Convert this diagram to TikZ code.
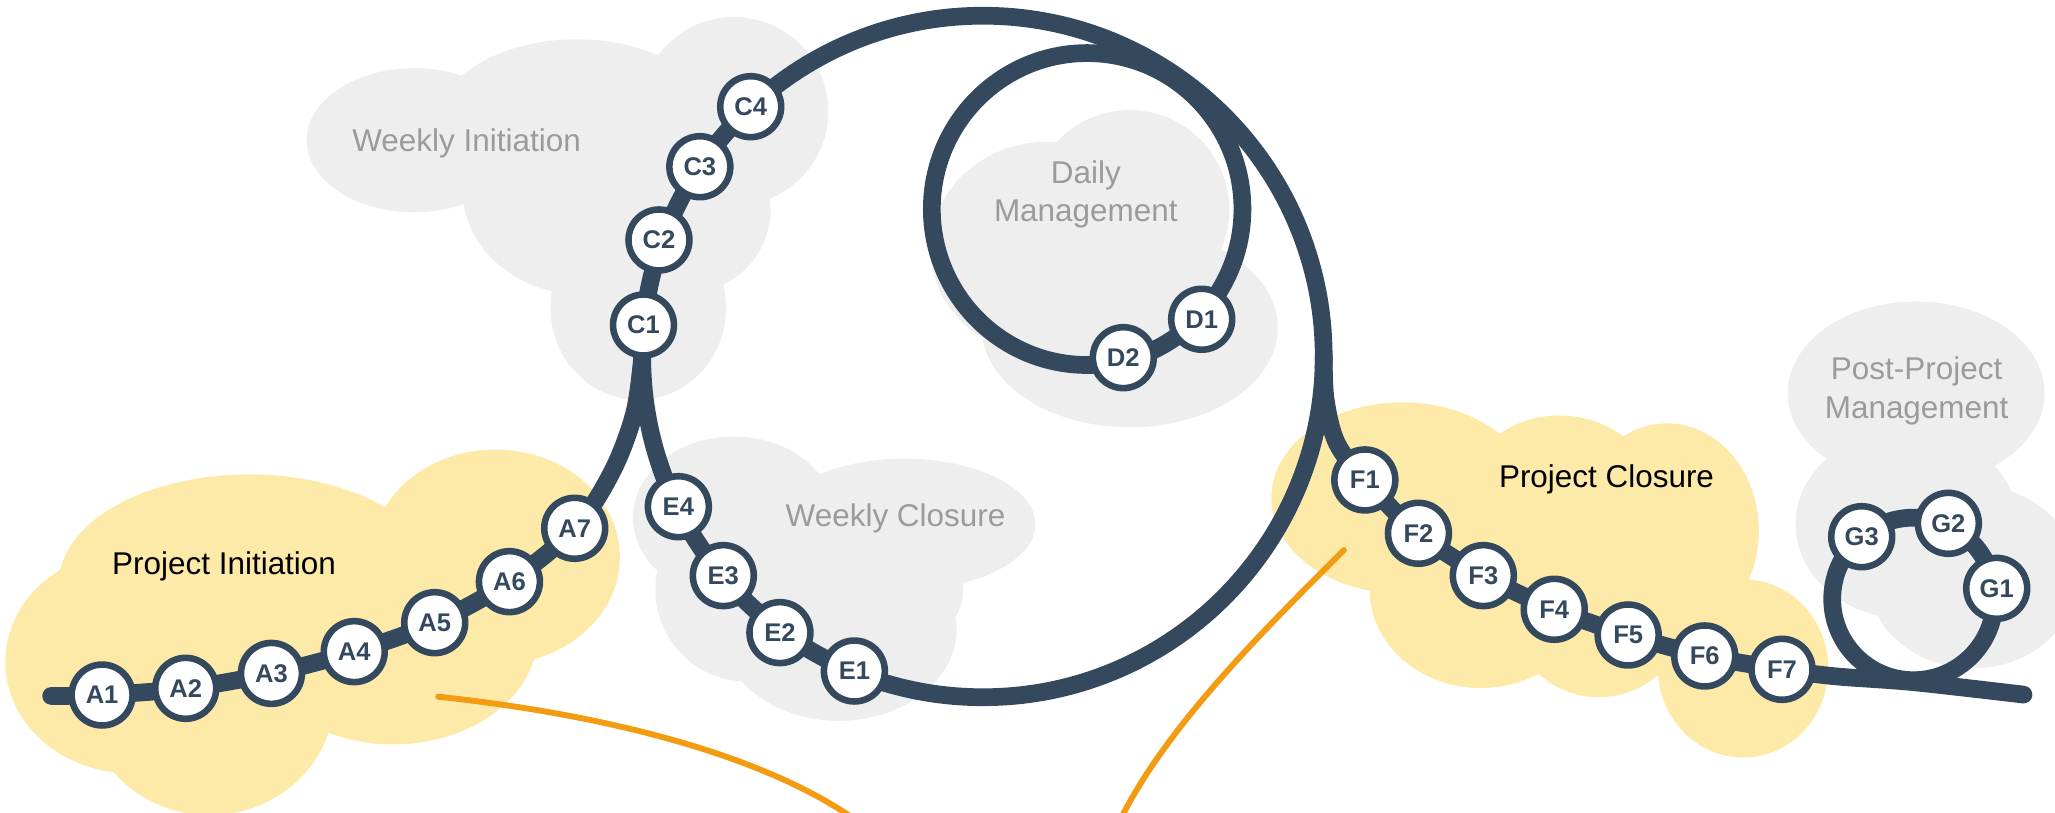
\documentclass[tikz,border=0pt]{standalone}
\usepackage{fontspec}
\setmainfont{Liberation Sans}
\pgfdeclarelayer{clouds}
\pgfdeclarelayer{track}
\pgfsetlayers{clouds,track,main}
\definecolor{navy}{HTML}{34495E}
\definecolor{cloudgray}{HTML}{EEEEEE}
\definecolor{cloudyellow}{HTML}{FEEAA8}
\definecolor{orangeline}{HTML}{F39C12}
\definecolor{labelgray}{HTML}{9B9B9B}
\begin{document}
\begin{tikzpicture}[x=1pt,y=-1pt,
  station/.style={circle, draw=navy, line width=5pt, fill=white, minimum size=46.5pt,
    inner sep=0pt, font=\fontsize{19.5}{20}\selectfont\bfseries, text=navy},
  track/.style={draw=navy, line width=13.5pt, line cap=round, line join=round},
  phase/.style={font=\fontsize{24}{29}\selectfont, text=labelgray, anchor=base, inner sep=0pt},
  mainphase/.style={font=\fontsize{24}{29}\selectfont, text=black, anchor=base, inner sep=0pt},
  graycloud/.style={fill=cloudgray},
  yellowcloud/.style={fill=cloudyellow},
  guide/.style={draw=orangeline, line width=4.5pt, line cap=round}]
\useasboundingbox (0,0) rectangle (1568,620.3);

% ---------- stations ----------
\node[station] (A1) at (77.9,530.3) {A1};
\node[station] (A2) at (141.7,525.2) {A2};
\node[station] (A3) at (207.1,513.8) {A3};
\node[station] (A4) at (270.3,497.2) {A4};
\node[station] (A5) at (331.7,475.1) {A5};
\node[station] (A6) at (388.7,443.8) {A6};
\node[station] (A7) at (438.5,403.1) {A7};

\node[station] (C1) at (491,248) {C1};
\node[station] (C2) at (502.8,183.1) {C2};
\node[station] (C3) at (534,127.2) {C3};
\node[station] (C4) at (572.8,81.4) {C4};

\node[station] (D1) at (916.9,243.6) {D1};
\node[station] (D2) at (857.1,272.9) {D2};

\node[station] (E4) at (517.6,386.6) {E4};
\node[station] (E3) at (551.9,439.2) {E3};
\node[station] (E2) at (595.1,482.7) {E2};
\node[station] (E1) at (651.9,512) {E1};

\node[station] (F1) at (1041.4,366.2) {F1};
\node[station] (F2) at (1082.3,406.9) {F2};
\node[station] (F3) at (1131.8,439.2) {F3};
\node[station] (F4) at (1185.9,464.9) {F4};
\node[station] (F5) at (1242.3,484.5) {F5};
\node[station] (F6) at (1300.7,500.5) {F6};
\node[station] (F7) at (1359.7,510.7) {F7};

\node[station] (G1) at (1523.5,448.9) {G1};
\node[station] (G2) at (1486.6,399.3) {G2};
\node[station] (G3) at (1420.5,409.5) {G3};

% ---------- labels ----------
\node[mainphase] (lPI) at (171,438.7) {Project Initiation};
\node[phase] (lWI) at (356,115.7) {Weekly Initiation};
\node[phase] (lDM1) at (828.5,139.9) {Daily};
\node[phase] (lDM2) at (828.5,169.1) {Management};
\node[phase] (lWC) at (683.3,401.9) {Weekly Closure};
\node[mainphase] (lPC) at (1225.8,371.8) {Project Closure};
\node[phase] (lPP1) at (1462.4,289.2) {Post-Project};
\node[phase] (lPP2) at (1462.4,319.2) {Management};

% ---------- helper coordinates ----------
\coordinate (startA) at (39,531);
\coordinate (endG) at (1544,530);
\coordinate (weekc) at (750,272);
\coordinate (dailyc) at (829.5,159.5);
\coordinate (postc) at (1460,457);
\coordinate (o1s) at (334.4,531.6);
\coordinate (o1e) at (652,625);
\coordinate (o2s) at (1025.4,419.7);
\coordinate (o2e) at (855,625);

% ---------- clouds ----------
\begin{pgfonlayer}{clouds}
  % Project Initiation
  \fill[yellowcloud] (100,505) ellipse[x radius=96, y radius=85];
  \fill[yellowcloud] (190,445) ellipse[x radius=145, y radius=83];
  \fill[yellowcloud] (378,425) ellipse[x radius=95, y radius=82];
  \fill[yellowcloud] (300,485) ellipse[x radius=110, y radius=83];
  \fill[yellowcloud] (160,532) ellipse[x radius=95, y radius=90];
  \fill[yellowcloud] (250,480) ellipse[x radius=120, y radius=60];
  % Weekly Initiation
  \fill[graycloud] (316,107) ellipse[x radius=82, y radius=55];
  \fill[graycloud] (440,100) ellipse[x radius=110, y radius=70];
  \fill[graycloud] (560,85) circle[radius=72];
  \fill[graycloud] (520,160) ellipse[x radius=68, y radius=65];
  \fill[graycloud] (445,145) ellipse[x radius=92, y radius=80];
  \fill[graycloud] (487,235) ellipse[x radius=67, y radius=70];
  % Daily Management
  \fill[graycloud] (862,160) circle[radius=76];
  \fill[graycloud] (800,190) ellipse[x radius=90, y radius=82];
  \fill[graycloud] (862,250) ellipse[x radius=113, y radius=76];
  % Weekly Closure
  \fill[graycloud] (560,395) ellipse[x radius=77, y radius=62];
  \fill[graycloud] (690,400) ellipse[x radius=100, y radius=50];
  \fill[graycloud] (655,450) ellipse[x radius=80, y radius=55];
  \fill[graycloud] (640,480) ellipse[x radius=90, y radius=70];
  \fill[graycloud] (570,450) ellipse[x radius=70, y radius=70];
  % Post-Project Management
  \fill[graycloud] (1462,300) ellipse[x radius=98, y radius=70];
  \fill[graycloud] (1455,400) ellipse[x radius=85, y radius=72];
  \fill[graycloud] (1505,440) ellipse[x radius=80, y radius=70];
  % Project Closure
  \fill[yellowcloud] (1070,380) ellipse[x radius=100, y radius=73];
  \fill[yellowcloud] (1190,385) ellipse[x radius=75, y radius=68];
  \fill[yellowcloud] (1272,405) ellipse[x radius=70, y radius=82];
  \fill[yellowcloud] (1330,510) ellipse[x radius=65, y radius=68];
  \fill[yellowcloud] (1220,460) ellipse[x radius=70, y radius=72];
  \fill[yellowcloud] (1130,450) ellipse[x radius=85, y radius=75];
  \fill[yellowcloud] (1200,430) ellipse[x radius=100, y radius=60];
\end{pgfonlayer}

% ---------- track ----------
\begin{pgfonlayer}{track}
  \draw[guide] (o1s) .. controls (460,545) and (580,575) .. (o1e);
  \draw[guide] (o2s) .. controls (960,485) and (890,555) .. (o2e);
  \draw[track] (weekc) circle[radius=260];
  \draw[track] (dailyc) ellipse[x radius=118.5, y radius=119];
  \draw[track] (postc) circle[radius=62];
  \draw[track] plot[smooth, tension=0.55] coordinates {(startA) (A1.center) (A2.center)
    (A3.center) (A4.center) (A5.center) (A6.center) (A7.center) (467,360) (484,315) (490,272)};
  \draw[track] plot[smooth, tension=0.55] coordinates {(1010,272) (1011.5,305) (1020,338)
    (F1.center) (F2.center) (F3.center) (F4.center) (F5.center) (F6.center) (F7.center)
    (1400,516) (1460,520.5) (endG)};
\end{pgfonlayer}
\end{tikzpicture}
\end{document}
